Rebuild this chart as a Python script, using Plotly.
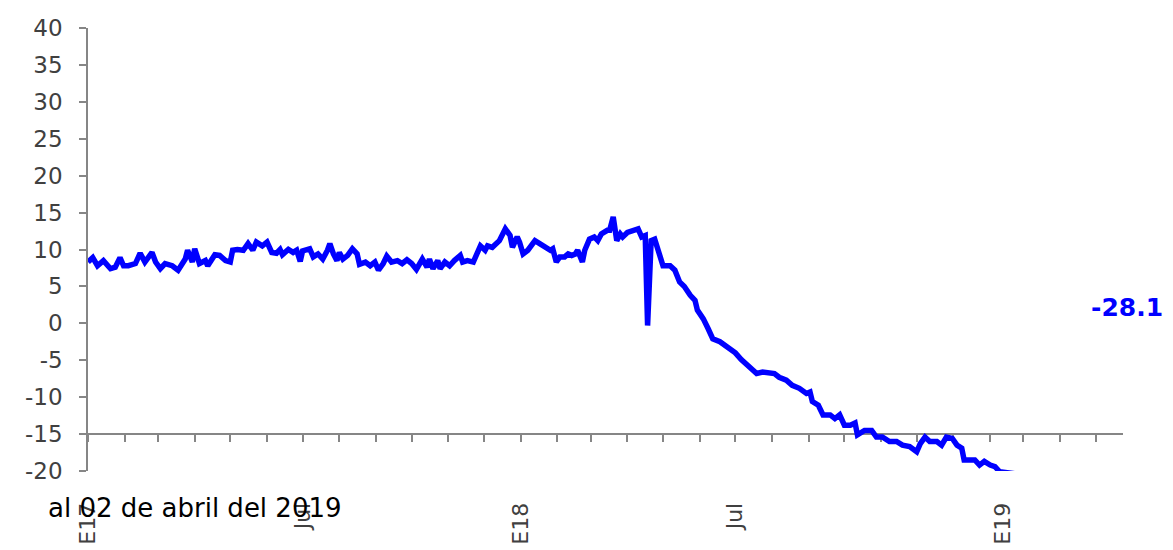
import plotly.graph_objects as go

dates = [
    "2017-01-01", "2017-01-05", "2017-01-09", "2017-01-14", "2017-01-20", "2017-01-24", "2017-01-28", "2017-01-31",
    "2017-02-04", "2017-02-10", "2017-02-14", "2017-02-18", "2017-02-24", "2017-02-27",
    "2017-03-03", "2017-03-07", "2017-03-13", "2017-03-18", "2017-03-24", "2017-03-26", "2017-03-30",
    "2017-04-01", "2017-04-05", "2017-04-10", "2017-04-12", "2017-04-18", "2017-04-22", "2017-04-27",
    "2017-05-01", "2017-05-03", "2017-05-07", "2017-05-12", "2017-05-16", "2017-05-20", "2017-05-23", "2017-05-28",
    "2017-06-01", "2017-06-05", "2017-06-09", "2017-06-12", "2017-06-14", "2017-06-19", "2017-06-23", "2017-06-26", "2017-06-29",
    "2017-07-01", "2017-07-07", "2017-07-10", "2017-07-14", "2017-07-18", "2017-07-22", "2017-07-24", "2017-07-27", "2017-07-30",
    "2017-08-01", "2017-08-04", "2017-08-08", "2017-08-12", "2017-08-16", "2017-08-18", "2017-08-23", "2017-08-27", "2017-08-31",
    "2017-09-03", "2017-09-07", "2017-09-10", "2017-09-14", "2017-09-19", "2017-09-23", "2017-09-27",
    "2017-10-01", "2017-10-05", "2017-10-10", "2017-10-14", "2017-10-16", "2017-10-19", "2017-10-23", "2017-10-25", "2017-10-29",
    "2017-11-02", "2017-11-06", "2017-11-11", "2017-11-13", "2017-11-17", "2017-11-22", "2017-11-25", "2017-11-28",
    "2017-12-02", "2017-12-04", "2017-12-08", "2017-12-12", "2017-12-14", "2017-12-19", "2017-12-23", "2017-12-25", "2017-12-29", "2017-12-31",
    "2018-01-03", "2018-01-07", "2018-01-13", "2018-01-17", "2018-01-21", "2018-01-26", "2018-01-28", "2018-01-31",
    "2018-02-03", "2018-02-07", "2018-02-10", "2018-02-13", "2018-02-16", "2018-02-18", "2018-02-22", "2018-02-24", "2018-02-28",
    "2018-03-04", "2018-03-07", "2018-03-10", "2018-03-15", "2018-03-17", "2018-03-20", "2018-03-21", "2018-03-23", "2018-03-26", "2018-03-28",
    "2018-04-01", "2018-04-06", "2018-04-10", "2018-04-13", "2018-04-16", "2018-04-18", "2018-04-21", "2018-04-24", "2018-04-28",
    "2018-05-01", "2018-05-07", "2018-05-11", "2018-05-15", "2018-05-19", "2018-05-24", "2018-05-28", "2018-05-30",
    "2018-06-04", "2018-06-08", "2018-06-12", "2018-06-18", "2018-06-24",
    "2018-07-01", "2018-07-06", "2018-07-13", "2018-07-19", "2018-07-24", "2018-07-30",
    "2018-08-03", "2018-08-07", "2018-08-13", "2018-08-18", "2018-08-24", "2018-08-30",
    "2018-09-02", "2018-09-04", "2018-09-09", "2018-09-13", "2018-09-19", "2018-09-23", "2018-09-27",
    "2018-10-01", "2018-10-06", "2018-10-10", "2018-10-12", "2018-10-18", "2018-10-24", "2018-10-28",
    "2018-11-02", "2018-11-08", "2018-11-14", "2018-11-19", "2018-11-25",
    "2018-12-01", "2018-12-04", "2018-12-08", "2018-12-12", "2018-12-18", "2018-12-22", "2018-12-26", "2018-12-31",
    "2019-01-04", "2019-01-08", "2019-01-10", "2019-01-19", "2019-01-23", "2019-01-27",
    "2019-02-01", "2019-02-05", "2019-02-09", "2019-02-15", "2019-02-23",
    "2019-04-02",
]

values = [
    8.3, 8.9, 7.8, 8.5, 7.4, 7.6, 8.9, 7.8,
    7.8, 8.1, 9.5, 8.3, 9.6, 8.3,
    7.4, 8.1, 7.8, 7.2, 8.7, 9.9, 8.3,
    10.1, 8.1, 8.5, 7.8, 9.3, 9.2, 8.5,
    8.3, 9.9, 10.0, 9.9, 10.8, 9.9, 11.0, 10.5,
    11.0, 9.6, 9.5, 10.0, 9.3, 10.0, 9.6, 9.9, 8.4,
    9.8, 10.1, 9.0, 9.4, 8.7, 9.9, 10.8, 9.4, 8.5,
    9.6, 8.7, 9.2, 10.1, 9.4, 8.0, 8.3, 7.8, 8.3,
    7.2, 8.1, 9.1, 8.3, 8.5, 8.1, 8.6,
    8.1, 7.3, 8.7, 7.6, 8.7, 7.4, 8.5, 7.4, 8.3,
    7.8, 8.5, 9.2, 8.3, 8.5, 8.3, 9.6, 10.5,
    9.9, 10.5, 10.3, 11.0, 11.2, 12.8, 11.9, 10.3, 11.7, 11.0,
    9.4, 9.9, 11.2, 10.8, 10.3, 9.9, 10.1, 8.3,
    9.0, 9.0, 9.4, 9.2, 9.4, 9.9, 8.3, 9.9, 11.4,
    11.7, 11.2, 12.1, 12.6, 12.6, 14.4, 13.5, 11.2, 12.1, 11.7,
    12.3, 12.6, 12.8, 11.7, 11.9, -0.3, 11.2, 11.4, 9.6,
    7.8, 7.8, 7.2, 5.6, 5.0, 3.8, 3.1, 1.8,
    0.6, -0.7, -2.1, -2.5, -3.2,
    -4.0, -4.9, -5.9, -6.8, -6.6, -6.8,
    -6.8, -7.3, -7.7, -8.4, -8.8, -9.5,
    -9.3, -10.6, -11.1, -12.4, -12.4, -12.9, -12.4,
    -13.8, -13.8, -13.5, -15.1, -14.5, -14.5, -15.4,
    -15.4, -16.0, -16.0, -16.5, -16.7,
    -17.4, -16.3, -15.4, -16.0, -16.0, -16.5, -15.4, -15.6,
    -16.5, -16.9, -18.5, -18.5, -19.2, -18.7,
    -19.2, -19.4, -20.1, -20.3, -20.4,
    -28.1,
]

label_dates = ["2017-01-01", "2017-07-01", "2018-01-01", "2018-07-01", "2019-02-12"]
label_texts = ["E17", "Jul", "E18", "Jul", "E19"]
y_ticks = [40, 35, 30, 25, 20, 15, 10, 5, 0, -5, -10, -15, -20]
y_tick_texts = ["40", "35", "30", "25", "20", "15", "10", "5", "0", "-5", "-10", "-15", "-20"]
last_value_text = "-28.1"
note_text = "al 02 de abril del 2019"

x_range = ["2017-01-01", "2019-05-24"]
y_range = [-20, 40]
axis_cross = -15

font_family = "DejaVu Sans, Verdana, sans-serif"
axis_gray = "#868686"
label_gray = "#404040"

fig = go.Figure()
fig.add_trace(go.Scatter(
    x=dates, y=values, mode="lines",
    line=dict(color="#0000FF", width=5.5),
    xaxis="x", yaxis="y", showlegend=False, hoverinfo="skip",
))

# invisible trace so xaxis2 (label axis) is rendered
fig.add_trace(go.Scatter(
    x=[x_range[0]], y=[y_range[0]], xaxis="x2", yaxis="y",
    mode="markers", marker=dict(opacity=0), showlegend=False, hoverinfo="skip",
))

fig.update_layout(
    width=1165, height=542,
    margin=dict(l=80, r=50, t=20, b=79, autoexpand=False),
    paper_bgcolor="white", plot_bgcolor="white",
    font=dict(family=font_family, color=label_gray),
    showlegend=False,
    xaxis=dict(
        type="date", range=x_range, automargin=False,
        anchor="free",
        position=(axis_cross - y_range[0]) / (y_range[1] - y_range[0]),
        showline=True, linecolor=axis_gray, linewidth=1.5,
        ticks="outside", tickcolor=axis_gray, ticklen=7, tickwidth=1.5,
        tick0="2017-01-01", dtick="M1",
        showticklabels=False, showgrid=False, zeroline=False,
        layer="below traces",
    ),
    xaxis2=dict(
        type="date", range=x_range, automargin=False,
        overlaying="x", anchor="y", side="bottom",
        showline=False, showgrid=False, zeroline=False,
        tickmode="array", tickvals=label_dates, ticktext=label_texts,
        tickangle=-90, ticks="outside", ticklen=22, tickcolor="rgba(0,0,0,0)",
        tickfont=dict(size=22, color=label_gray, family=font_family),
    ),
    yaxis=dict(
        range=y_range, automargin=False,
        tickmode="array", tickvals=y_ticks, ticktext=y_tick_texts,
        showline=True, linecolor=axis_gray, linewidth=1.5,
        ticks="outside", tickcolor=axis_gray, ticklen=7, tickwidth=1.5,
        ticklabelstandoff=12,
        tickfont=dict(size=23, color=label_gray, family=font_family),
        showgrid=False, zeroline=False,
        layer="below traces",
    ),
    annotations=[
        dict(
            text="<b>" + last_value_text + "</b>", xref="paper", yref="paper",
            x=1.0043, y=0.368, xanchor="center", yanchor="middle",
            showarrow=False, font=dict(size=25, color="#0000FF", family=font_family),
        ),
        dict(
            text=note_text, xref="paper", yref="paper",
            x=-0.041, y=-0.0835, xanchor="left", yanchor="middle",
            showarrow=False, font=dict(size=26, color="black", family=font_family),
        ),
    ],
)

fig.write_html("out.html")
